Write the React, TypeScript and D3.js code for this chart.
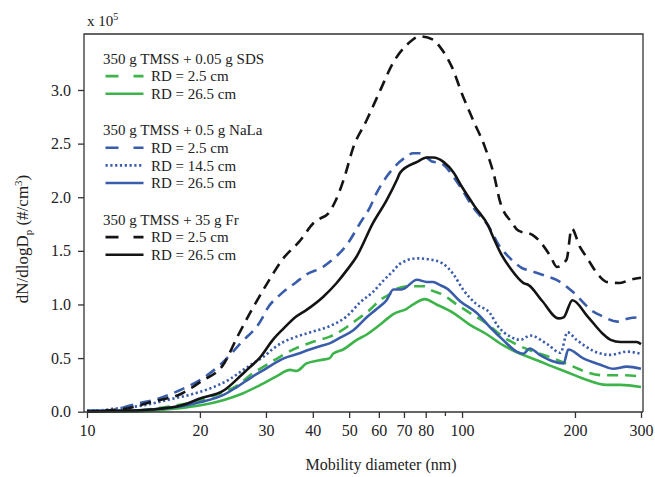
import React, { useEffect, useRef } from 'react';
import * as d3 from 'd3';

// [mobility diameter (nm), dN/dlogDp (x 10^5)]
const sdsRd25 = [
  [10, 0], [12.8, 0], [14.5, 0.02], [16.7, 0.05], [19.3, 0.09], [22.2, 0.16], [25.3, 0.25],
  [27.7, 0.36], [29.3, 0.41], [32.6, 0.51], [36, 0.59], [39.9, 0.65], [44.4, 0.7], [46.3, 0.73],
  [52.5, 0.86], [56.8, 0.95], [60.4, 1.04], [64.4, 1.1], [67.2, 1.15], [72.5, 1.17], [79.5, 1.17],
  [82, 1.14], [89, 1.09], [96.8, 1.0], [105, 0.92], [116.6, 0.82], [128.6, 0.7], [143, 0.61],
  [155.5, 0.56], [174.5, 0.5], [198, 0.42], [214.5, 0.37], [237.8, 0.34], [264.6, 0.34], [300, 0.33],
];
const sdsRd265 = [
  [10, 0], [12.8, 0], [14.8, 0.01], [17.4, 0.03], [20.1, 0.06], [23.2, 0.11], [25.6, 0.16],
  [29, 0.25], [32, 0.33], [34.8, 0.39], [36.2, 0.38], [38.5, 0.45], [41.8, 0.48], [44.4, 0.5],
  [45.3, 0.54], [48.2, 0.58], [52.4, 0.67], [55.7, 0.72], [60.4, 0.81], [65.6, 0.91], [71.2, 0.96],
  [74.1, 1.0], [79.5, 1.05], [85.5, 1.0], [94.9, 0.92], [105, 0.81], [116.6, 0.72], [128.6, 0.62],
  [143, 0.54], [158.4, 0.48], [174.5, 0.42], [190, 0.37], [210, 0.31], [243, 0.25], [264.6, 0.25],
  [300, 0.23],
];
const nalaRd25 = [
  [10, 0], [10.4, 0], [12, 0.02], [12.8, 0.05], [14.2, 0.09], [15.1, 0.11], [17.4, 0.19],
  [20.1, 0.3], [22.7, 0.44], [25.7, 0.64], [29.3, 0.87], [30.1, 0.95], [32.7, 1.09], [36.2, 1.21],
  [38.5, 1.28], [42.6, 1.35], [44.5, 1.4], [49.6, 1.57], [53.5, 1.76], [56.9, 1.91], [59.2, 2.04],
  [62.9, 2.19], [71.2, 2.38], [74, 2.41], [77, 2.41], [83.7, 2.33], [87.4, 2.32], [94.9, 2.19],
  [98.8, 2.1], [106.8, 1.91], [117.6, 1.73], [126, 1.54], [132.6, 1.45], [144.4, 1.34],
  [153.4, 1.31], [169.4, 1.26], [178.5, 1.23], [196.9, 1.12], [224.4, 0.93], [236.8, 0.89],
  [259.4, 0.84], [278, 0.87], [300, 0.88],
];
const nalaRd145 = [
  [10, 0.01], [10.4, 0.01], [12, 0.03], [14.2, 0.06], [16.4, 0.11], [18.9, 0.16], [21.4, 0.22],
  [24.2, 0.31], [26.1, 0.39], [27.7, 0.45], [29.5, 0.51], [31.4, 0.59], [33.4, 0.65], [36.2, 0.7],
  [39.4, 0.74], [44.5, 0.8], [49.3, 0.89], [53.5, 1.02], [58, 1.12], [61.6, 1.22], [65.4, 1.31],
  [68.4, 1.38], [75.9, 1.43], [82, 1.42], [89, 1.38], [94.9, 1.28], [100.6, 1.14], [109.5, 1.0],
  [118.6, 0.92], [124.5, 0.8], [134.4, 0.7], [143, 0.67], [152, 0.71], [168.7, 0.63], [183, 0.55],
  [191, 0.74], [202, 0.67], [230, 0.55], [249, 0.53], [275, 0.56], [300, 0.54],
];
const nalaRd265 = [
  [10, 0.01], [12.8, 0.01], [14.8, 0.02], [17.9, 0.05], [20.1, 0.09], [23.2, 0.16], [25.1, 0.23],
  [27.7, 0.33], [29.3, 0.38], [31.2, 0.44], [33.6, 0.5], [36.5, 0.54], [38.5, 0.57], [41.8, 0.61],
  [44.5, 0.64], [47.3, 0.69], [51.3, 0.76], [55.7, 0.88], [59.3, 0.96], [62.9, 1.04], [65.6, 1.14],
  [69, 1.14], [75.9, 1.23], [80.5, 1.21], [83.7, 1.21], [87.4, 1.18], [91, 1.15], [98.8, 1.03],
  [109.5, 0.92], [118.6, 0.79], [128.6, 0.67], [139.8, 0.56], [145.6, 0.54], [151.5, 0.59],
  [161, 0.53], [174.5, 0.47], [186.5, 0.45], [192, 0.58], [210, 0.5], [233, 0.44], [253, 0.4],
  [275, 0.42], [300, 0.4],
];
const frRd25 = [
  [10, 0], [11, 0.01], [12.8, 0.03], [14.8, 0.09], [17.9, 0.17], [20.1, 0.28], [23.2, 0.45],
  [25.1, 0.69], [27.7, 0.97], [30.4, 1.21], [33.2, 1.42], [36.9, 1.59], [40.5, 1.77], [41.8, 1.8],
  [44, 1.85], [45.9, 1.96], [47.3, 2.07], [49, 2.23], [51, 2.44], [55.7, 2.72], [60.4, 2.99],
  [65.4, 3.25], [71.2, 3.42], [77.3, 3.5], [83.7, 3.47], [87.4, 3.4], [93.8, 3.22], [100.6, 2.94],
  [107, 2.72], [115, 2.47], [122, 2.19], [126, 1.97], [136, 1.76], [141, 1.69], [154, 1.65],
  [161, 1.59], [172, 1.45], [179, 1.35], [190, 1.42], [196, 1.71], [206, 1.54], [214, 1.45],
  [233, 1.26], [243, 1.21], [264, 1.2], [280, 1.23], [300, 1.25],
];
const frRd265 = [
  [10, 0], [13, 0.01], [14.8, 0.02], [17.9, 0.06], [20.1, 0.125], [23.2, 0.2], [25.6, 0.33],
  [26.7, 0.39], [29, 0.51], [31.3, 0.67], [33.3, 0.77], [36.2, 0.89], [38.5, 0.95], [42.6, 1.07],
  [46.3, 1.2], [49.3, 1.32], [52.4, 1.45], [57.9, 1.76], [62.9, 1.97], [67, 2.16], [68.4, 2.23],
  [75.9, 2.33], [80.5, 2.37], [83.7, 2.37], [89.2, 2.33], [94.9, 2.23], [99.8, 2.1], [108.3, 1.91],
  [117.6, 1.73], [121, 1.63], [127.6, 1.46], [134.4, 1.34], [145.9, 1.2], [150.5, 1.18],
  [163.8, 1.03], [180.8, 0.87], [186.5, 0.88], [196.9, 1.04], [216, 0.89], [236.8, 0.73],
  [249, 0.67], [264.6, 0.65], [292, 0.65], [300, 0.63],
];

const xTicks = [10, 20, 30, 40, 50, 60, 70, 80, 90, 100, 200, 300];
const xTickLabels = ['10', '20', '30', '40', '50', '60', '70', '80', '', '100', '200', '300'];
const yTicks = [0, 0.5, 1.0, 1.5, 2.0, 2.5, 3.0];

const GREEN = '#3db449';
const BLUE = '#3a5dab';
const BLACK = '#141414';

const DASH = '11,7';
const DOT = '2.2,2.6';

const series = [
  { data: sdsRd265, color: GREEN, dash: null },
  { data: sdsRd25, color: GREEN, dash: DASH },
  { data: nalaRd265, color: BLUE, dash: null },
  { data: nalaRd145, color: BLUE, dash: DOT },
  { data: nalaRd25, color: BLUE, dash: DASH },
  { data: frRd265, color: BLACK, dash: null },
  { data: frRd25, color: BLACK, dash: DASH },
];

// legend groups: title then entries
const legendGroups = [
  {
    title: '350 g TMSS + 0.05 g SDS',
    items: [
      { label: 'RD = 2.5 cm', color: GREEN, dash: '13,15' },
      { label: 'RD = 26.5 cm', color: GREEN, dash: null },
    ],
  },
  {
    title: '350 g TMSS + 0.5 g NaLa',
    items: [
      { label: 'RD = 2.5 cm', color: BLUE, dash: '13,15' },
      { label: 'RD = 14.5 cm', color: BLUE, dash: DOT },
      { label: 'RD = 26.5 cm', color: BLUE, dash: null },
    ],
  },
  {
    title: '350 g TMSS + 35 g Fr',
    items: [
      { label: 'RD = 2.5 cm', color: BLACK, dash: '13,15' },
      { label: 'RD = 26.5 cm', color: BLACK, dash: null },
    ],
  },
];

const W = 655;
const H = 477;
const FONT = 'Liberation Serif, Times New Roman, Times, serif';

const App = () => {
  const svgRef = useRef<SVGSVGElement>(null);

  useEffect(() => {
    const svg = d3.select(svgRef.current);
    svg.selectAll('*').remove();

    // plot frame
    const left = 84, right = 643, top = 34, bottom = 412;

    const x = d3.scaleLog().domain([10, 300]).range([87, 641]);
    const y = d3.scaleLinear().domain([0, 3]).range([411.7, 90]);

    const axisColor = '#333';

    // curves
    const line = d3.line<number[]>()
      .x(d => x(d[0]))
      .y(d => y(d[1]))
      .curve(d3.curveMonotoneX);

    series.forEach(s => {
      svg.append('path')
        .datum(s.data)
        .attr('d', line)
        .attr('fill', 'none')
        .attr('stroke', s.color)
        .attr('stroke-width', 2.6)
        .attr('stroke-linejoin', 'round')
        .attr('stroke-dasharray', s.dash);
    });

    // frame (top, right, left)
    svg.append('path')
      .attr('d', `M${left},${bottom}V${top}H${right}V${bottom}`)
      .attr('fill', 'none')
      .attr('stroke', axisColor)
      .attr('stroke-width', 1.3);

    // x axis
    const gx = svg.append('g')
      .attr('transform', `translate(0,${bottom})`)
      .call(
        d3.axisBottom(x)
          .tickValues(xTicks)
          .tickSize(6)
          .tickFormat((d, i) => xTickLabels[i])
      );
    gx.attr('font-family', FONT).attr('font-size', 16);
    gx.select('.domain')
      .attr('d', `M${left},0H${right}`)
      .attr('stroke', axisColor)
      .attr('stroke-width', 1.3);
    gx.selectAll('.tick line').attr('stroke', axisColor).attr('stroke-width', 1.3);
    gx.selectAll('.tick line').filter((d: any) => d === 90).attr('y2', 4);
    gx.selectAll('.tick text')
      .attr('y', 13)
      .attr('fill', '#222');

    // y axis
    const gy = svg.append('g')
      .attr('transform', `translate(${left},0)`)
      .call(
        d3.axisLeft(y)
          .tickValues(yTicks)
          .tickSize(6)
          .tickFormat(d3.format('.1f'))
      );
    gy.attr('font-family', FONT).attr('font-size', 16);
    gy.select('.domain').remove();
    gy.selectAll('.tick line').attr('stroke', axisColor).attr('stroke-width', 1.3);
    gy.selectAll('.tick text')
      .attr('x', -13)
      .attr('fill', '#222');

    // multiplier
    const mult = svg.append('text')
      .attr('x', 87)
      .attr('y', 26)
      .attr('fill', '#222')
      .attr('font-family', FONT)
      .attr('font-size', 15);
    mult.append('tspan').text('x 10');
    mult.append('tspan').attr('dy', -6).attr('font-size', 10).text('5');

    // axis titles
    svg.append('text')
      .attr('x', 381)
      .attr('y', 470)
      .attr('text-anchor', 'middle')
      .attr('fill', '#222')
      .attr('font-family', FONT)
      .attr('font-size', 16)
      .text('Mobility diameter (nm)');

    const yt = svg.append('text')
      .attr('transform', 'translate(28,239) rotate(-90)')
      .attr('text-anchor', 'middle')
      .attr('fill', '#222')
      .attr('font-family', FONT)
      .attr('font-size', 17);
    yt.append('tspan').text('dN/dlogD');
    yt.append('tspan').attr('dy', 4).attr('font-size', 11).text('p');
    yt.append('tspan').attr('dy', -4).text(' (#/cm');
    yt.append('tspan').attr('dy', -6).attr('font-size', 11).text('3');
    yt.append('tspan').attr('dy', 6).text(')');

    // legend
    let ly = 58.5;
    const rowH = 17.6;
    legendGroups.forEach(g => {
      svg.append('text')
        .attr('x', 103)
        .attr('y', ly)
        .attr('dy', '0.35em')
        .attr('fill', '#222')
        .attr('font-family', FONT)
        .attr('font-size', 15)
        .text(g.title);
      g.items.forEach(item => {
        ly += rowH;
        svg.append('line')
          .attr('x1', 105.5)
          .attr('x2', 143.5)
          .attr('y1', ly)
          .attr('y2', ly)
          .attr('stroke', item.color)
          .attr('stroke-width', 2.6)
          .attr('stroke-dasharray', item.dash);
        svg.append('text')
          .attr('x', 151)
          .attr('y', ly)
          .attr('dy', '0.35em')
          .attr('fill', '#222')
          .attr('font-family', FONT)
          .attr('font-size', 15)
          .text(item.label);
      });
      ly += 36.5;
    });
  }, []);

  return (
    <svg
      ref={svgRef}
      width={W}
      height={H}
      style={{ position: 'absolute', left: 0, top: 0, background: '#fff' }}
    />
  );
};

export default App;
